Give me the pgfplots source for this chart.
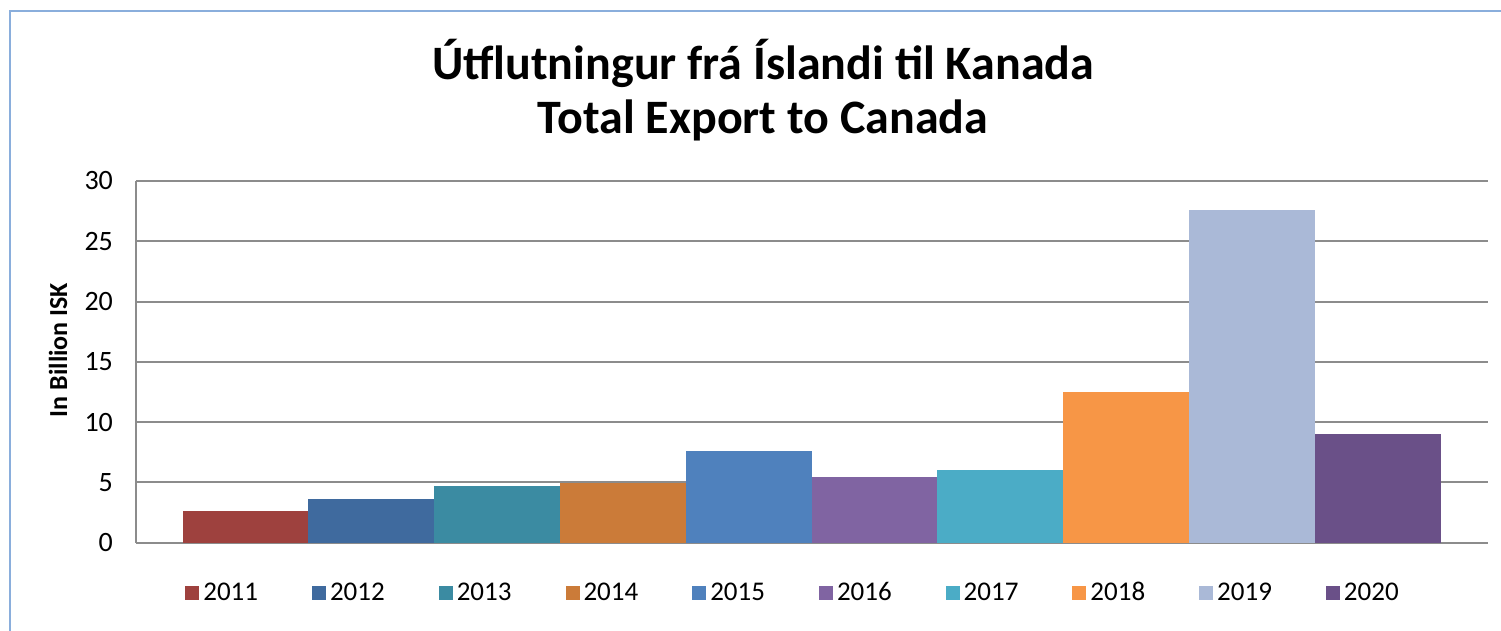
\documentclass[border=0pt]{standalone}
\usepackage{pgfplots}
\pgfplotsset{compat=1.18}
\usepackage{fontspec}
\setmainfont{Carlito}

\definecolor{c2011}{HTML}{9E413E}
\definecolor{c2012}{HTML}{3F6A9E}
\definecolor{c2013}{HTML}{3B8BA2}
\definecolor{c2014}{HTML}{CB7B39}
\definecolor{c2015}{HTML}{4F81BD}
\definecolor{c2016}{HTML}{8064A2}
\definecolor{c2017}{HTML}{4BACC6}
\definecolor{c2018}{HTML}{F79646}
\definecolor{c2019}{HTML}{AAB9D7}
\definecolor{c2020}{HTML}{6A5088}
\definecolor{gridgray}{HTML}{8C8C8C}
\definecolor{framebl}{HTML}{8AAEDC}

\begin{document}
\begin{tikzpicture}
% canvas: 1px = 0.5pt
\useasboundingbox (0,0) rectangle (750.5pt,315.5pt);
\draw[framebl, line width=0.8pt] (5pt,-1pt) -- (5pt,310pt) -- (752pt,310pt);

\node[font=\bfseries\fontsize{24}{28}\selectfont] at (381.5pt,284pt) {Útflutningur frá Íslandi til Kanada};
\node[font=\bfseries\fontsize{24}{28}\selectfont] at (381.5pt,255.5pt) {Total Export to Canada};
\node[font=\bfseries\fontsize{13}{15}\selectfont, rotate=90] at (29pt,140.5pt) {In Billion ISK};

\begin{axis}[
    at={(68pt,44.15pt)}, anchor=south west,
    scale only axis,
    width=676pt, height=180.85pt,
    xmin=0.129, xmax=10.876,
    ymin=0, ymax=30,
    xtick=\empty,
    ytick={0,5,10,15,20,25,30},
    major tick length=0pt,
    axis lines*=left,
    axis line style={draw=gridgray, line width=1pt},
    ymajorgrids=true,
    grid style={draw=gridgray, line width=1pt},
    yticklabel style={font=\fontsize{14}{16}\selectfont, xshift=-8pt},
    /pgf/number format/assume math mode=true,
    legend columns=10,
    legend style={at={(0.4867,-0.139)}, anchor=center, draw=none,
        font=\fontsize{13.5}{15}\selectfont,
        /tikz/every even column/.append style={column sep=25pt}},
    legend image code/.code={\fill[#1] (0pt,-3.5pt) rectangle (7pt,3.5pt);},
]
\addplot[ybar, bar width=1, bar shift=0pt, fill=c2011, draw=none] coordinates {(1,2.63)};
\addlegendentry{2011}
\addplot[ybar, bar width=1, bar shift=0pt, fill=c2012, draw=none] coordinates {(2,3.59)};
\addlegendentry{2012}
\addplot[ybar, bar width=1, bar shift=0pt, fill=c2013, draw=none] coordinates {(3,4.67)};
\addlegendentry{2013}
\addplot[ybar, bar width=1, bar shift=0pt, fill=c2014, draw=none] coordinates {(4,4.95)};
\addlegendentry{2014}
\addplot[ybar, bar width=1, bar shift=0pt, fill=c2015, draw=none] coordinates {(5,7.57)};
\addlegendentry{2015}
\addplot[ybar, bar width=1, bar shift=0pt, fill=c2016, draw=none] coordinates {(6,5.41)};
\addlegendentry{2016}
\addplot[ybar, bar width=1, bar shift=0pt, fill=c2017, draw=none] coordinates {(7,6.0)};
\addlegendentry{2017}
\addplot[ybar, bar width=1, bar shift=0pt, fill=c2018, draw=none] coordinates {(8,12.48)};
\addlegendentry{2018}
\addplot[ybar, bar width=1, bar shift=0pt, fill=c2019, draw=none] coordinates {(9,27.6)};
\addlegendentry{2019}
\addplot[ybar, bar width=1, bar shift=0pt, fill=c2020, draw=none] coordinates {(10,9.0)};
\addlegendentry{2020}
\end{axis}
\end{tikzpicture}
\end{document}
